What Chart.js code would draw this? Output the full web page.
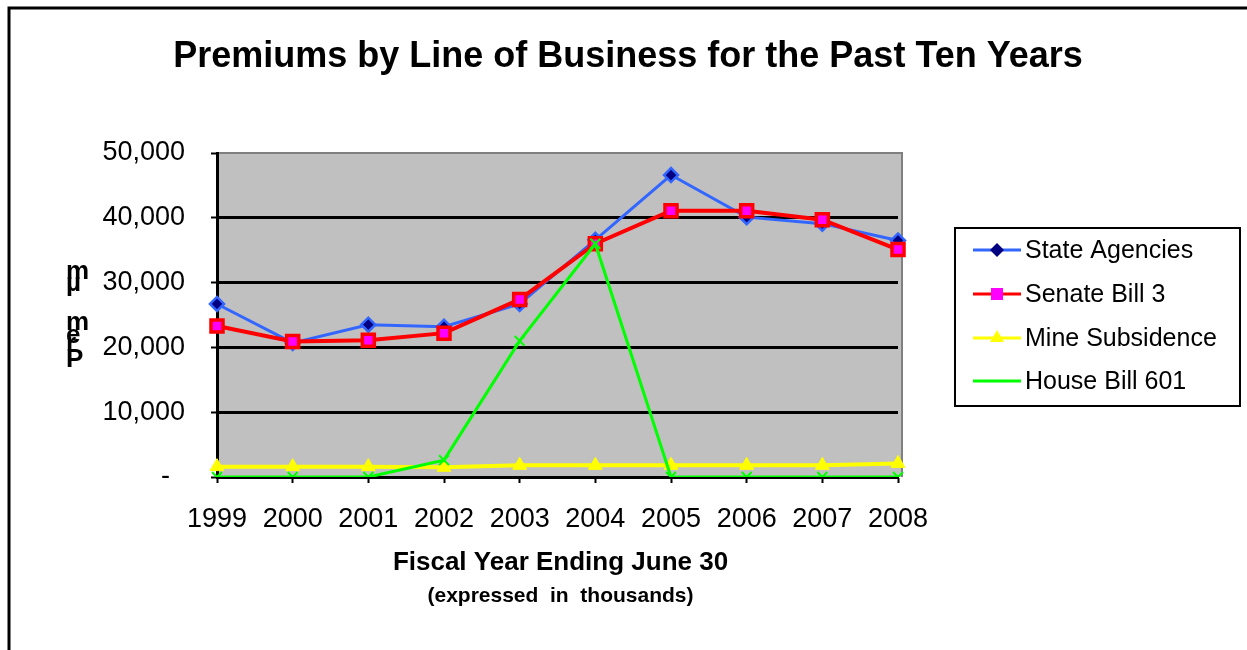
<!DOCTYPE html>
<html>
<head>
<title>Premiums by Line of Business</title>
<script src="https://cdn.jsdelivr.net/npm/chart.js@4"></script>
<style>
  body { margin: 0; background: #fff; }
  canvas { display: block; }
</style>
</head>
<body>
<canvas id="chart" width="1247" height="650"></canvas>
<script>
// values (thousands of dollars)
const years = ['1999', '2000', '2001', '2002', '2003', '2004', '2005', '2006', '2007', '2008'];
const stateAgencies = [26700, 20700, 23500, 23200, 26700, 36600, 46600, 40100, 39100, 36500];
const senateBill3 = [23300, 20900, 21100, 22200, 27400, 36000, 41100, 41100, 39700, 35100];
const mineSubsidence = [1600, 1600, 1600, 1500, 1800, 1800, 1800, 1800, 1800, 2100];
const houseBill601 = [0, 0, 0, 2600, 21000, 36000, 0, 0, 0, 0];
const yTicks = [0, 10000, 20000, 30000, 40000, 50000];

const FONT = '"Liberation Sans", Arial, sans-serif';

// background of the plot, outer frame, titles and the odd stacked y title
const decor = {
    id: 'decor',
    beforeDraw(chart) {
        const { ctx, chartArea: a } = chart;
        ctx.save();
        ctx.fillStyle = '#fff';
        ctx.fillRect(0, 0, chart.width, chart.height);
        ctx.fillStyle = '#C0C0C0';
        ctx.fillRect(a.left, a.top, a.right - a.left + 4, a.bottom - a.top);
        ctx.strokeStyle = '#808080';
        ctx.lineWidth = 2;
        ctx.beginPath();
        ctx.moveTo(a.left, a.top);
        ctx.lineTo(a.right + 4, a.top);
        ctx.lineTo(a.right + 4, a.bottom);
        ctx.stroke();
        ctx.restore();
    },
    afterDraw(chart) {
        const { ctx, chartArea: a } = chart;
        ctx.save();
        // outer frame (top + left only, the rest is cut off)
        ctx.strokeStyle = '#000';
        ctx.lineWidth = 3;
        ctx.beginPath();
        ctx.moveTo(9, chart.height);
        ctx.lineTo(9, 8);
        ctx.lineTo(chart.width, 8);
        ctx.stroke();

        ctx.fillStyle = '#000';
        ctx.textAlign = 'center';
        ctx.textBaseline = 'middle';
        ctx.font = 'bold 36px ' + FONT;
        ctx.fillText('Premiums by Line of Business for the Past Ten Years', 628, 57);

        const cx = (a.left + a.right) / 2 + 3;
        ctx.font = 'bold 26px ' + FONT;
        ctx.fillText('Fiscal Year Ending June 30', cx, 563);
        ctx.font = 'bold 21px ' + FONT;
        ctx.fillText('(expressed  in  thousands)', cx, 596);

        // y axis title rendered as stacked letters like the original
        ctx.textAlign = 'left';
        ctx.textBaseline = 'alphabetic';
        ctx.font = 'bold 26px ' + FONT;
        [['m', 279], ['\u00b5', 291], ['m', 330], ['e', 343], ['r', 351], ['P', 367]].forEach(([ch, y]) => {
            ctx.fillText(ch, 66, y);
        });

        // legend
        const lx = 955, ly = 228, lw = 285, lh = 178;
        ctx.fillStyle = '#fff';
        ctx.fillRect(lx, ly, lw, lh);
        ctx.strokeStyle = '#000';
        ctx.lineWidth = 2;
        ctx.strokeRect(lx, ly, lw, lh);
        const rows = [250, 294, 338, 381];
        chart.data.datasets.forEach((ds, i) => {
            const y = rows[i];
            ctx.strokeStyle = ds.borderColor;
            ctx.lineWidth = 3;
            ctx.beginPath();
            ctx.moveTo(973, y);
            ctx.lineTo(1021, y);
            ctx.stroke();
            ctx.fillStyle = ds.pointBackgroundColor;
            ctx.strokeStyle = ds.pointBorderColor;
            ctx.lineWidth = ds.pointBorderWidth;
            Chart.helpers.drawPoint(ctx, { pointStyle: ds.pointStyle, radius: ds.pointRadius, rotation: 0 }, 997, y);
            ctx.fillStyle = '#000';
            ctx.font = '25px ' + FONT;
            ctx.textBaseline = 'middle';
            ctx.fillText(ds.label, 1025, y + 1);
        });
        ctx.restore();
    }
};

const canvas = document.getElementById('chart');
const chart = new Chart(canvas, {
    type: 'line',
    data: {
        labels: years,
        datasets: [
            {
                label: 'State Agencies',
                data: stateAgencies,
                borderColor: '#3366FF',
                borderWidth: 3,
                pointStyle: 'rectRot',
                pointRadius: 7,
                pointBackgroundColor: '#000080',
                pointBorderColor: '#3366FF',
                pointBorderWidth: 2.5,
                order: 4,
            },
            {
                label: 'Senate Bill 3',
                data: senateBill3,
                borderColor: '#FF0000',
                borderWidth: 4,
                pointStyle: 'rect',
                pointRadius: 8.5,
                pointBackgroundColor: '#FF00FF',
                pointBorderColor: '#FF0000',
                pointBorderWidth: 3.5,
                order: 3,
            },
            {
                label: 'Mine Subsidence',
                data: mineSubsidence,
                borderColor: '#FFFF00',
                borderWidth: 4,
                pointStyle: 'triangle',
                pointRadius: 8,
                pointBackgroundColor: '#FFFF00',
                pointBorderColor: '#FFFF00',
                pointBorderWidth: 1,
                order: 2,
            },
            {
                label: 'House Bill 601',
                data: houseBill601,
                borderColor: '#00FF00',
                borderWidth: 3,
                pointStyle: 'crossRot',
                pointRadius: 7,
                pointBackgroundColor: '#00FF00',
                pointBorderColor: '#00FF00',
                pointBorderWidth: 2,
                order: 1,
            },
        ],
    },
    options: {
        responsive: false,
        animation: false,
        tension: 0,
        layout: { padding: { top: 153, right: 349, bottom: 0, left: 0 } },
        plugins: {
            legend: { display: false },
            tooltip: { enabled: false },
        },
        scales: {
            x: {
                type: 'category',
                offset: false,
                afterFit: (s) => { s.height = 173; },
                grid: { drawOnChartArea: false, drawTicks: true, tickLength: 6, tickColor: '#000', tickWidth: 2 },
                border: { display: true, color: '#000', width: 2 },
                ticks: { color: '#000', font: { family: FONT, size: 27 }, padding: 20, maxRotation: 0, autoSkip: false },
            },
            y: {
                min: 0,
                max: 50000,
                afterFit: (s) => { s.width = 217; },
                afterBuildTicks: (s) => { s.ticks = yTicks.map((v) => ({ value: v })); },
                grid: {
                    color: (c) => (c.tick.value === 50000 ? 'rgba(0,0,0,0)' : '#000'),
                    lineWidth: 3,
                    tickLength: 6,
                    tickColor: '#000',
                    tickWidth: 2,
                },
                border: { display: true, color: '#000', width: 3 },
                ticks: {
                    color: '#000',
                    font: { family: FONT, size: 27 },
                    padding: 26,
                    callback: (v) => (v === 0 ? '-  ' : v.toLocaleString('en-US')),
                },
            },
        },
    },
    plugins: [decor],
});
</script>
</body>
</html>
